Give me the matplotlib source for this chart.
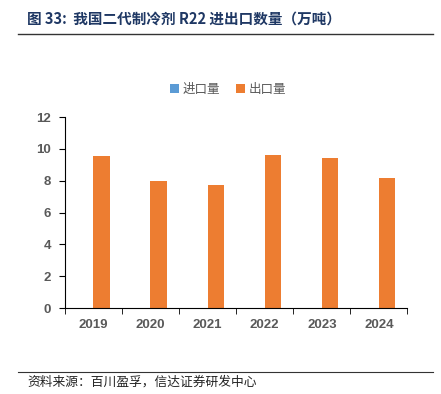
import numpy as np
import matplotlib.pyplot as plt

plt.rcParams['font.family'] = ['Noto Sans CJK SC', 'DejaVu Sans']

years = ['2019', '2020', '2021', '2022', '2023', '2024']
imports = [0, 0, 0, 0, 0, 0]
exports = [9.56, 7.98, 7.74, 9.63, 9.43, 8.16]

fig = plt.figure(figsize=(4.41, 3.94), dpi=100)

# 标题与分隔线
fig.text(0.061, 0.953, '图 33:  我国二代制冷剂 R22 进出口数量（万吨）',
         fontsize=10.5, fontweight='bold', color='#1F3864', va='center', ha='left')
fig.add_artist(plt.Line2D([0.04, 0.982], [0.914, 0.914], color='#333333', lw=1.0))
fig.add_artist(plt.Line2D([0.04, 0.982], [0.056, 0.056], color='#333333', lw=0.8))
fig.text(0.063, 0.031, '资料来源：百川盈孚，信达证券研发中心', fontsize=9.2,
         color='#222222', va='center', ha='left')

ax = fig.add_axes([0.147, 0.218, 0.777, 0.485])
x = np.arange(len(years))
w = 0.29
ax.bar(x - w / 2, imports, w, color='#5B9BD5', label='进口量')
ax.bar(x + w / 2, exports, w, color='#ED7D31', label='出口量')

ax.set_xlim(-0.5, len(years) - 0.5)
ax.set_ylim(0, 12)
ax.set_yticks(range(0, 13, 2))
ax.set_xticks(x)
ax.set_xticklabels(years)
ax.set_xticks(np.arange(-0.5, len(years), 1), minor=True)
ax.tick_params(axis='x', which='major', length=0, pad=8)
ax.tick_params(axis='x', which='minor', length=4, direction='out', color='black')
ax.tick_params(axis='y', length=4, direction='out', pad=6)
for lab in ax.get_xticklabels() + ax.get_yticklabels():
    lab.set_fontfamily('Liberation Sans')
    lab.set_fontweight('bold')
    lab.set_fontsize(9.5)
    lab.set_color('#595959')
for s in ['top', 'right']:
    ax.spines[s].set_visible(False)
ax.spines['left'].set_color('black')
ax.spines['bottom'].set_color('black')

ax.legend(loc='center', bbox_to_anchor=(0.477, 1.145), ncol=2, frameon=False,
          fontsize=9, handlelength=0.7, handleheight=0.7, handletextpad=0.3,
          columnspacing=1.3, labelcolor='#595959')

fig.savefig('out.png', dpi=100)
